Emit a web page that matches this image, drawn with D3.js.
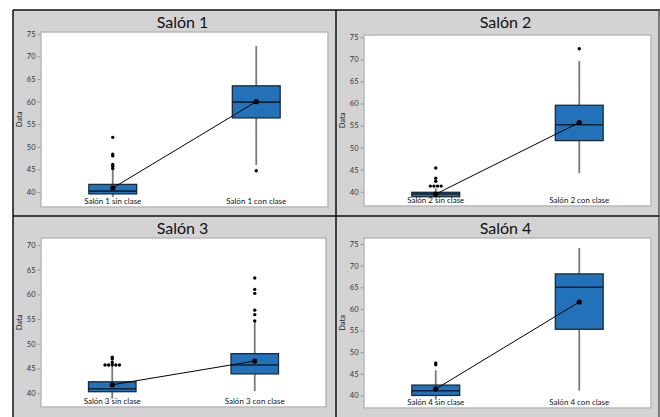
<!DOCTYPE html>
<html>
<head>
<meta charset="utf-8">
<script src="https://cdn.jsdelivr.net/npm/d3@7"></script>
<style>
  body { margin: 0; background: #fff; }
  svg { display: block; font-family: Lato, "Open Sans", sans-serif; }
</style>
</head>
<body>
<div id="container"></div>
<script>
/* DATA */
const panelTitles = ["Salón 1", "Salón 2", "Salón 3", "Salón 4"];
const groupLabels = [
  ["Salón 1 sin clase", "Salón 1 con clase"],
  ["Salón 2 sin clase", "Salón 2 con clase"],
  ["Salón 3 sin clase", "Salón 3 con clase"],
  ["Salón 4 sin clase", "Salón 4 con clase"]
];
const whiskerLow  = [[38.9, 46.0], [38.5, 44.2], [38.9, 40.4], [39.0, 41.1]];
const q1          = [[39.6, 56.4], [38.9, 51.6], [40.3, 43.9], [40.0, 55.3]];
const medians     = [[40.2, 59.9], [39.5, 55.2], [40.9, 45.7], [41.1, 65.0]];
const q3          = [[41.7, 63.5], [39.9, 59.6], [42.3, 48.0], [42.4, 68.1]];
const whiskerHigh = [[44.9, 72.3], [40.8, 69.6], [45.4, 54.3], [45.8, 74.1]];
const means       = [[40.9, 60.0], [39.5, 55.7], [41.7, 46.5], [41.5, 61.6]];
const outliers = [
  [[45.2, 45.7, 46.1, 48.0, 48.4, 52.1], [44.7]],
  [[41.3, 41.3, 41.3, 41.3, 42.4, 43.1, 45.4], [72.4]],
  [[45.7, 45.7, 45.7, 45.7, 45.7, 46.2, 46.9, 47.3], [54.6, 55.9, 56.8, 60.2, 61.0, 63.3]],
  [[47.1, 47.5], []]
];
const yTicks = [
  [40, 45, 50, 55, 60, 65, 70, 75],
  [40, 45, 50, 55, 60, 65, 70, 75],
  [40, 45, 50, 55, 60, 65, 70],
  [40, 45, 50, 55, 60, 65, 70, 75]
];
const yDomains = [[36.7, 75.4], [36.8, 75.5], [37.2, 71.4], [37.1, 76.4]];

/* LAYOUT */
const width = 660, height = 417;
const blue = "#2372b9";
// plot areas: left, top, right, bottom
const plotBoxes = [
  [41, 32, 328, 207],
  [364, 35, 651, 206],
  [41, 238, 326, 407],
  [364, 238, 651, 408]
];
const panelBoxes = [
  [13, 10, 336, 216],
  [336, 10, 659, 216],
  [13, 216, 336, 417],
  [336, 216, 659, 417]
];

const svg = d3.select("#container")
  .append("svg")
  .attr("width", width)
  .attr("height", height);

// grey background + frame
svg.append("rect")
  .attr("x", 13).attr("y", 10)
  .attr("width", 646).attr("height", 407)
  .attr("fill", "#d3d3d3");

panelTitles.forEach((title, p) => {
  const [l, t, r, b] = plotBoxes[p];
  const [pl, pt, pr] = panelBoxes[p];
  const g = svg.append("g");

  // title
  g.append("text")
    .attr("x", (pl + pr) / 2 + 8)
    .attr("y", pt + 18)
    .attr("text-anchor", "middle")
    .attr("font-size", 16)
    .attr("fill", "#111")
    .text(title);

  // plot area
  g.append("rect")
    .attr("x", l).attr("y", t)
    .attr("width", r - l).attr("height", b - t)
    .attr("fill", "#fff")
    .attr("stroke", "#b9b9b9")
    .attr("stroke-width", 1.5);

  /* SCALES */
  const yScale = d3.scaleLinear().domain(yDomains[p]).range([b, t]);
  const xScale = d3.scaleBand().domain(groupLabels[p]).range([l, r]);
  const boxW = xScale.bandwidth() / 3;

  // y axis
  const yAxis = d3.axisLeft(yScale).tickValues(yTicks[p]).tickSize(3).tickPadding(2);
  const ax = g.append("g")
    .attr("transform", `translate(${l - 0.5}, 0)`)
    .call(yAxis);
  ax.select(".domain").remove();
  ax.selectAll("line").attr("stroke", "#999");
  ax.selectAll("text")
    .attr("font-size", 7.5)
    .attr("font-family", "Lato, sans-serif")
    .attr("fill", "#333");

  // y label
  g.append("text")
    .attr("transform", `translate(${l - 19}, ${(t + b) / 2}) rotate(-90)`)
    .attr("text-anchor", "middle")
    .attr("font-size", 7.5)
    .attr("fill", "#222")
    .text("Data");

  const groups = groupLabels[p].map((name, i) => ({
    name,
    cx: xScale(name) + xScale.bandwidth() / 2,
    lo: whiskerLow[p][i], q1: q1[p][i], med: medians[p][i],
    q3: q3[p][i], hi: whiskerHigh[p][i], mean: means[p][i],
    out: outliers[p][i]
  }));

  // whiskers
  g.selectAll(".whisker")
    .data(groups)
    .join("line")
    .attr("x1", d => d.cx).attr("x2", d => d.cx)
    .attr("y1", d => yScale(d.lo)).attr("y2", d => yScale(d.hi))
    .attr("stroke", "#7a7a7a")
    .attr("stroke-width", 1.8);

  // boxes
  g.selectAll(".box")
    .data(groups)
    .join("rect")
    .attr("x", d => d.cx - boxW / 2)
    .attr("y", d => yScale(d.q3))
    .attr("width", boxW)
    .attr("height", d => yScale(d.q1) - yScale(d.q3))
    .attr("fill", blue)
    .attr("stroke", "#1c2a38")
    .attr("stroke-width", 1.3);

  // medians
  g.selectAll(".median")
    .data(groups)
    .join("line")
    .attr("x1", d => d.cx - boxW / 2).attr("x2", d => d.cx + boxW / 2)
    .attr("y1", d => yScale(d.med)).attr("y2", d => yScale(d.med))
    .attr("stroke", "#0f2236")
    .attr("stroke-width", 1.6);

  // outliers, tied values side by side
  groups.forEach(d => {
    const counts = d3.rollup(d.out, v => v.length, v => v);
    const pts = [];
    counts.forEach((n, v) => {
      for (let k = 0; k < n; k++) pts.push({ v, dx: (k - (n - 1) / 2) * 3.6 });
    });
    g.selectAll(null)
      .data(pts)
      .join("circle")
      .attr("cx", o => d.cx + o.dx)
      .attr("cy", o => yScale(o.v))
      .attr("r", 1.7)
      .attr("fill", "#000");
  });

  // mean connect line
  g.append("path")
    .datum(groups)
    .attr("d", d3.line().x(d => d.cx).y(d => yScale(d.mean)))
    .attr("fill", "none")
    .attr("stroke", "#000")
    .attr("stroke-width", 1);

  g.selectAll(".mean")
    .data(groups)
    .join("circle")
    .attr("cx", d => d.cx)
    .attr("cy", d => yScale(d.mean))
    .attr("r", 2.6)
    .attr("fill", "#000");

  // category labels
  g.selectAll(".cat")
    .data(groups)
    .join("text")
    .attr("x", d => d.cx)
    .attr("y", b - 3)
    .attr("text-anchor", "middle")
    .attr("font-size", 8)
    .attr("fill", "#111")
    .text(d => d.name);
});

// frame lines
const frame = [
  [13, 10, 660, 10],
  [13, 10, 13, 417],
  [659, 10, 659, 417],
  [336, 10, 336, 417],
  [13, 216, 659, 216]
];
svg.selectAll(".frame")
  .data(frame)
  .join("line")
  .attr("x1", d => d[0]).attr("y1", d => d[1])
  .attr("x2", d => d[2]).attr("y2", d => d[3])
  .attr("stroke", (d, i) => i === 2 ? "#555" : "#111")
  .attr("stroke-width", 1.5);
</script>
</body>
</html>
